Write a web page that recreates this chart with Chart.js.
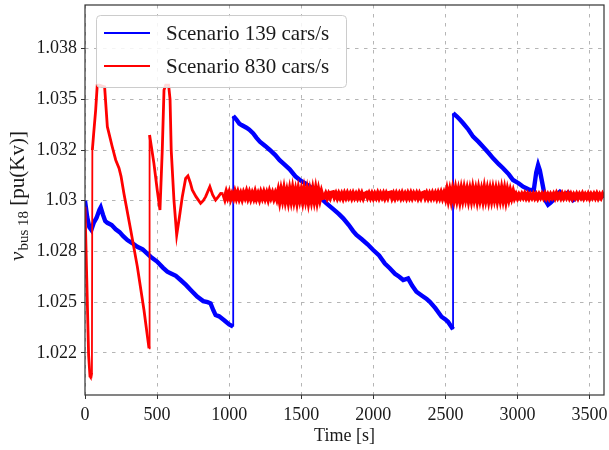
<!DOCTYPE html>
<html>
<head>
<meta charset="utf-8">
<script src="https://cdn.jsdelivr.net/npm/chart.js@4.4.1/dist/chart.umd.min.js"></script>
<style>
html,body{margin:0;padding:0;background:#ffffff;}
#wrap{width:609px;height:450px;}
</style>
</head>
<body>
<div id="wrap"><canvas id="c" width="609" height="450"></canvas></div>
<script>
// ---------- data ----------
const seriesLabels = ['Scenario 139 cars/s', 'Scenario 830 cars/s'];

const blueTime = [0,15,30,44,60,80,100,109,125,140,155,185,213,240,265,294,330,363,400,430,455,500,540,571,600,630,663,700,740,778,820,850,871,890,906,930,963,1000,1028,
  1028,1050,1070,1086,1120,1140,1167,1190,1213,1250,1282,1320,1350,1375,1420,1460,1490,1530,1560,1600,1640,1675,1720,1760,1791,1830,1860,1883,1920,1960,1999,2040,2080,2114,2150,2180,2207,2241,2270,2299,2340,2370,2392,2430,2473,2500,2518,2540,2553,
  2553,2580,2600,2623,2660,2692,2730,2761,2800,2831,2870,2900,2940,2969,3010,3039,3065,3085,3113,3130,3143,3155,3177,3195,3212,3230,3247,3270,3293,3310,3328,3350,3385,3420,3460,3500,3540,3600];
const blueVolt = [1.03000,1.02920,1.02870,1.02856,1.02890,1.02915,1.02955,1.02967,1.02930,1.02900,1.02891,1.02880,1.02859,1.02845,1.02825,1.02806,1.02790,1.02773,1.02760,1.02740,1.02724,1.02700,1.02670,1.02650,1.02640,1.02630,1.02609,1.02585,1.02555,1.02527,1.02505,1.02500,1.02494,1.02460,1.02436,1.02430,1.02412,1.02390,1.02379,
  1.03418,1.03400,1.03380,1.03373,1.03360,1.03350,1.03332,1.03310,1.03291,1.03270,1.03250,1.03225,1.03200,1.03184,1.03155,1.03120,1.03102,1.03085,1.03069,1.03040,1.03010,1.02987,1.02960,1.02935,1.02913,1.02880,1.02850,1.02831,1.02810,1.02785,1.02757,1.02730,1.02690,1.02667,1.02640,1.02625,1.02609,1.02617,1.02580,1.02551,1.02530,1.02515,1.02502,1.02470,1.02428,1.02415,1.02403,1.02380,1.02366,
  1.03431,1.03415,1.03400,1.03382,1.03350,1.03316,1.03290,1.03266,1.03235,1.03209,1.03180,1.03160,1.03130,1.03102,1.03085,1.03069,1.03060,1.03053,1.03053,1.03140,1.03176,1.03150,1.03069,1.03000,1.02980,1.02990,1.03003,1.03030,1.03044,1.03030,1.03028,1.03040,1.03003,1.03020,1.03015,1.03025,1.03015,1.03025];

const redTime = [0,12,25,35,40,46,48,51,60,74,85,100,120,136,155,189,213,236,250,270,317,363,409,444,448,478,501,520,536,548,560,580,590,598,617,636,655,675,698,714,730,744,770,802,820,837,866,885,906,925,941,
  960,970,980,990,1000,1010,1020,1030,1040,1050,1060,1070,1080,1090,1100,1110,1120,1130,1140,1150,
  1160,1170,1180,1190,1200,1210,1220,1230,1240,1250,1260,1270,1280,1290,1300,1310,1320,1330,
  1340,1350,1360,1370,1380,1390,1400,1410,1420,1430,1440,1450,1460,1470,1480,1490,
  1500,1510,1520,1530,1540,1550,1560,1570,1580,1590,1600,1610,1620,1630,1640,1650,
  1660,1670,1680,1690,1700,1710,1720,1730,1740,1750,1760,1770,
  1780,1790,1800,1810,1820,1830,1840,1850,1860,1870,1880,1890,
  1900,1910,1920,1930,1940,1950,1960,1970,1980,1990,2000,2010,
  2020,2030,2040,2050,2060,2070,2080,2090,2100,2110,2120,2130,
  2140,2150,2160,2170,2180,2190,2200,2210,2220,2230,2240,2250,
  2260,2270,2280,2290,2300,2310,2320,2330,2340,2350,2360,2370,
  2380,2390,2400,2410,2420,2430,2440,2450,2460,2470,2480,2490,
  2500,2510,2520,2530,2540,2550,2560,2570,2580,2590,2600,2610,
  2620,2630,2640,2650,2660,2670,2680,2690,2700,2710,2720,2730,
  2740,2750,2760,2770,2780,2790,2800,2810,2820,2830,2840,2850,
  2860,2870,2880,2890,2900,2910,2920,2930,2940,2950,2960,2970,
  2980,2990,3000,3010,3020,3030,3040,3050,3060,3070,3080,3090,
  3100,3110,3120,3130,3140,3150,3160,3170,3180,3190,3200,3210,
  3220,3230,3240,3250,3260,3270,3280,3290,3300,3310,3320,3330,
  3340,3350,3360,3370,3380,3390,3400,3410,3420,3430,3440,3450,
  3460,3470,3480,3490,3500,3510,3520,3530,3540,3550,3560,3570,
  3580,3590,3600];
const redVolt = [1.02970,1.02620,1.02240,1.02130,1.02125,1.02150,1.02160,1.03250,1.03330,1.03447,1.03570,1.03570,1.03565,1.03562,1.03365,1.03266,1.03201,1.03160,1.03120,1.03036,1.02856,1.02675,1.02461,1.02272,1.03324,1.03184,1.03053,1.02954,1.03250,1.03546,1.03570,1.03570,1.03500,1.03250,1.03003,1.02831,1.02920,1.03020,1.03110,1.03122,1.03090,1.03053,1.03020,1.02987,1.03000,1.03020,1.03069,1.03030,1.03003,1.03020,1.03036,
  1.03035,1.03013,1.03039,1.03017,1.03037,1.03011,1.03031,1.03014,1.03040,1.03016,1.03038,1.03013,1.03033,1.03011,1.03036,1.03018,1.03041,1.03015,1.03037,1.03012,
  1.03034,1.03014,1.03039,1.03013,1.03032,1.03010,1.03037,1.03016,1.03038,1.03014,1.03035,1.03011,1.03040,1.03017,1.03036,1.03013,1.03034,1.03012,
  1.03044,1.03004,1.03046,1.03010,1.03050,1.03006,1.03041,1.03003,1.03047,1.03008,1.03051,1.03007,1.03043,1.03002,1.03048,1.03011,
  1.03045,1.03005,1.03049,1.03009,1.03046,1.03001,1.03042,1.03006,1.03048,1.03008,1.03050,1.03005,1.03045,1.03010,1.03040,1.03014,
  1.03016,1.03033,1.03015,1.03032,1.03017,1.03039,1.03041,1.03019,1.03034,1.03015,1.03033,1.03016,
  1.03032,1.03014,1.03034,1.03017,1.03035,1.03018,1.03033,1.03015,1.03034,1.03017,1.03032,1.03016,
  1.03035,1.03017,1.03034,1.03015,1.03033,1.03037,1.03018,1.03034,1.03016,1.03033,1.03015,1.03032,
  1.03017,1.03035,1.03016,1.03033,1.03018,1.03034,1.03015,1.03033,1.03017,1.03038,1.03040,1.03016,
  1.03033,1.03015,1.03034,1.03018,1.03033,1.03016,1.03035,1.03017,1.03032,1.03015,1.03034,1.03017,
  1.03035,1.03016,1.03033,1.03018,1.03034,1.03015,1.03033,1.03016,1.03036,1.03039,1.03017,1.03034,
  1.03015,1.03033,1.03016,1.03035,1.03017,1.03034,1.03014,1.03035,1.03016,1.03037,1.03015,1.03036,
  1.03014,1.03048,1.03010,1.03045,1.03008,1.03049,1.03013,1.03051,1.03011,1.03046,1.03007,1.03050,
  1.03012,1.03052,1.03015,1.03049,1.03009,1.03047,1.03010,1.03053,1.03014,1.03048,1.03008,1.03050,
  1.03011,1.03046,1.03009,1.03054,1.03013,1.03049,1.03008,1.03048,1.03010,1.03051,1.03014,1.03049,
  1.03009,1.03047,1.03011,1.03052,1.03012,1.03050,1.03007,1.03046,1.03013,1.03045,1.03017,1.03042,
  1.03015,1.03030,1.03014,1.03029,1.03016,1.03031,1.03017,1.03032,1.03015,1.03030,1.03014,1.03029,
  1.03016,1.03031,1.03015,1.03029,1.03014,1.03030,1.03017,1.03031,1.03016,1.03032,1.03015,1.03029,
  1.03014,1.03030,1.03017,1.03031,1.03015,1.03033,1.03016,1.03029,1.03015,1.03032,1.03016,1.03031,
  1.03017,1.03032,1.03015,1.03030,1.03014,1.03029,1.03016,1.03031,1.03015,1.03030,1.03017,1.03032,
  1.03015,1.03029,1.03016,1.03031,1.03014,1.03030,1.03017,1.03031,1.03016,1.03032,1.03015,1.03029,
  1.03016,1.03031,1.03017];

const xTickValues = [0,500,1000,1500,2000,2500,3000,3500];
const xTickLabels = ['0','500','1000','1500','2000','2500','3000','3500'];
const yTickValues = [1.0225,1.025,1.0275,1.03,1.0325,1.035,1.0375];
const yTickLabels = ['1.022','1.025','1.028','1.03','1.032','1.035','1.038'];

const xTitle = 'Time [s]';
const yTitleVar = 'v';
const yTitleSub = 'bus 18';
const yTitleUnit = '[pu(Kv)]';

// ---------- chart ----------
const SERIF = "'Liberation Serif','DejaVu Serif',serif";
const TEXT = '#1a1a1a';

function toPoints(ts, vs){ return ts.map((t,i)=>({x:t, y:vs[i]})); }
// line width per segment: thin for the vertical jumps, wider where the trace is noisy
function segWidth(thin, normal, noisyFrom, noisy){
  return ctx => {
    if (Math.abs(ctx.p1.parsed.x - ctx.p0.parsed.x) < 6) return thin;
    return ctx.p0.parsed.x >= noisyFrom ? noisy : normal;
  };
}

const decor = {
  id: 'decor',
  afterDatasetsDraw(chart){
    const {ctx, chartArea:a} = chart;
    ctx.save();
    ctx.strokeStyle = '#333333';
    ctx.lineWidth = 1.2;
    ctx.strokeRect(a.left, a.top, a.right - a.left, a.bottom - a.top);
    ctx.restore();
  },
  afterDraw(chart){
    const ctx = chart.ctx;
    // legend
    ctx.save();
    const x0 = 96.5, y0 = 15.5, w = 250, h = 72, r = 4;
    ctx.beginPath();
    ctx.moveTo(x0 + r, y0);
    ctx.lineTo(x0 + w - r, y0);
    ctx.arcTo(x0 + w, y0, x0 + w, y0 + r, r);
    ctx.lineTo(x0 + w, y0 + h - r);
    ctx.arcTo(x0 + w, y0 + h, x0 + w - r, y0 + h, r);
    ctx.lineTo(x0 + r, y0 + h);
    ctx.arcTo(x0, y0 + h, x0, y0 + h - r, r);
    ctx.lineTo(x0, y0 + r);
    ctx.arcTo(x0, y0, x0 + r, y0, r);
    ctx.closePath();
    ctx.fillStyle = 'rgba(255,255,255,0.85)';
    ctx.fill();
    ctx.strokeStyle = '#cccccc';
    ctx.lineWidth = 1;
    ctx.stroke();
    chart.data.datasets.forEach((ds, i) => {
      const y = 33 + i * 33;
      ctx.beginPath();
      ctx.moveTo(104, y);
      ctx.lineTo(150, y);
      ctx.strokeStyle = ds.borderColor;
      ctx.lineWidth = 2;
      ctx.stroke();
      ctx.fillStyle = TEXT;
      ctx.font = "21px " + SERIF;
      ctx.textBaseline = 'middle';
      ctx.textAlign = 'left';
      ctx.fillText(ds.label, 166, y + 1);
    });
    ctx.restore();

    // y axis title: v_{bus 18} [pu(Kv)]
    ctx.save();
    const fMain = "21px " + SERIF;
    const fIt = "italic 21px " + SERIF;
    const fSub = "15px " + SERIF;
    ctx.font = fIt; const wV = ctx.measureText(yTitleVar).width;
    ctx.font = fSub; const wS = ctx.measureText(yTitleSub).width;
    ctx.font = fMain; const wU = ctx.measureText(' ' + yTitleUnit).width;
    const total = wV + 1 + wS + wU;
    const cy = (chart.chartArea.top + chart.chartArea.bottom) / 2 - 4;
    ctx.translate(24, cy);
    ctx.rotate(-Math.PI / 2);
    ctx.fillStyle = TEXT;
    ctx.textBaseline = 'alphabetic';
    ctx.textAlign = 'left';
    let x = -total / 2;
    ctx.font = fIt; ctx.fillText(yTitleVar, x, 0); x += wV + 1;
    ctx.font = fSub; ctx.fillText(yTitleSub, x, 4); x += wS;
    ctx.font = fMain; ctx.fillText(' ' + yTitleUnit, x, 0);
    ctx.restore();
  }
};

new Chart(document.getElementById('c'), {
  type: 'line',
  data: {
    datasets: [
      {
        label: seriesLabels[0],
        data: toPoints(blueTime, blueVolt),
        borderColor: '#0000ff',
        backgroundColor: '#0000ff',
        borderWidth: 4.4,
        pointRadius: 0,
        tension: 0,
        fill: false,
        order: 2,
        segment: { borderWidth: segWidth(1.8, 4.4, 99999, 4.4) }
      },
      {
        label: seriesLabels[1],
        data: toPoints(redTime, redVolt),
        borderColor: '#ff0000',
        backgroundColor: '#ff0000',
        borderWidth: 2.8,
        pointRadius: 0,
        tension: 0,
        fill: false,
        order: 1,
        segment: { borderWidth: segWidth(1.8, 2.8, 950, 4.4) }
      }
    ]
  },
  options: {
    responsive: false,
    animation: false,
    devicePixelRatio: 1,
    layout: { padding: { left: 0, top: 5, right: 5, bottom: 0 } },
    plugins: { legend: { display: false }, tooltip: { enabled: false } },
    scales: {
      x: {
        type: 'linear',
        min: 0, max: 3600,
        afterBuildTicks: s => { s.ticks = xTickValues.map(v => ({ value: v })); },
        afterFit: s => { s.height = 55; s.paddingLeft = 0; s.paddingRight = 0; },
        ticks: {
          autoSkip: false, maxRotation: 0, padding: 5,
          color: TEXT, font: { family: SERIF, size: 18 },
          callback: (v, i) => xTickLabels[i]
        },
        grid: { color: '#b5b5b5', lineWidth: 1, tickLength: 4, tickColor: '#333333', tickWidth: 1, tickBorderDash: [] },
        border: { display: false, dash: [3.5, 5.5] },
        title: { display: true, text: xTitle, color: TEXT, font: { family: SERIF, size: 18 }, padding: { top: 0, bottom: 3 } }
      },
      y: {
        type: 'linear',
        min: 1.02042, max: 1.03965,
        afterBuildTicks: s => { s.ticks = yTickValues.map(v => ({ value: v })); },
        afterFit: s => { s.width = 85; s.paddingTop = 0; s.paddingBottom = 0; },
        ticks: {
          autoSkip: false, padding: 4,
          color: TEXT, font: { family: SERIF, size: 18 },
          callback: (v, i) => yTickLabels[i]
        },
        grid: { color: '#b5b5b5', lineWidth: 1, tickLength: 4, tickColor: '#333333', tickWidth: 1, tickBorderDash: [] },
        border: { display: false, dash: [3.5, 5.5] },
        title: { display: false }
      }
    }
  },
  plugins: [decor]
});
</script>
</body>
</html>
